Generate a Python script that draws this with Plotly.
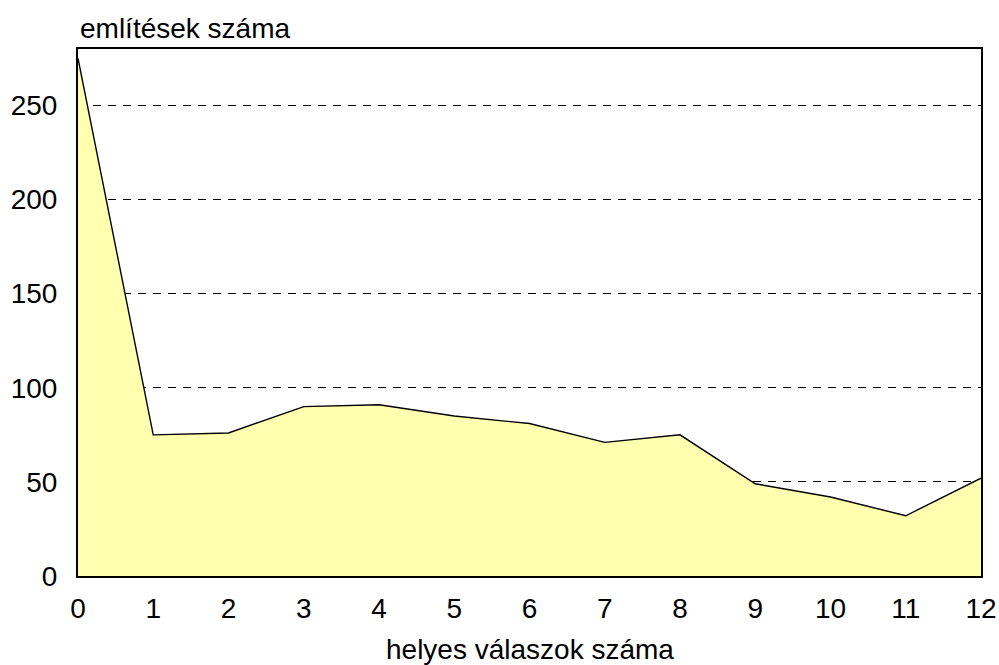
import plotly.graph_objects as go

x_vals = [0, 1, 2, 3, 4, 5, 6, 7, 8, 9, 10, 11, 12]
y_vals = [275, 75, 76, 90, 91, 85, 81, 71, 75, 49, 42, 32, 52]
y_ticks = [0, 50, 100, 150, 200, 250]
x_title = "helyes válaszok száma"
y_title = "említések száma"

FONT = "Liberation Sans, Arial, sans-serif"

fig = go.Figure()
fig.add_trace(go.Scatter(
    x=x_vals, y=y_vals, mode="lines", fill="tozeroy",
    fillcolor="#FFFFB0", line=dict(color="black", width=1.4),
    hoverinfo="skip", showlegend=False,
))

fig.update_layout(
    width=999, height=665,
    margin=dict(l=78, r=18, t=49, b=89),
    paper_bgcolor="white", plot_bgcolor="white",
    font=dict(family=FONT, size=28, color="black"),
    xaxis=dict(
        range=[0, 12], tickmode="array", tickvals=x_vals,
        showgrid=False, zeroline=False, automargin=False,
        showline=True, linecolor="black", linewidth=2, mirror=True,
        ticks="", ticklabelstandoff=6,
    ),
    yaxis=dict(
        range=[0, 280], tickmode="array", tickvals=y_ticks,
        showgrid=True, gridcolor="black", gridwidth=1, griddash="8px,7px",
        zeroline=False, automargin=False,
        showline=True, linecolor="black", linewidth=2, mirror=True,
        ticks="", ticklabelstandoff=13,
    ),
    annotations=[
        dict(text=y_title, xref="paper", yref="paper", x=0, y=1,
             xanchor="left", yanchor="bottom", showarrow=False, yshift=3,
             font=dict(family=FONT, size=28)),
        dict(text=x_title, xref="paper", yref="paper", x=0.5, y=0,
             xanchor="center", yanchor="top", showarrow=False, yshift=-56,
             font=dict(family=FONT, size=28)),
    ],
)

fig.write_html(
    "out.html",
    config={"displayModeBar": False},
    post_script="document.body.style.margin='0';document.body.style.overflow='hidden';",
)
